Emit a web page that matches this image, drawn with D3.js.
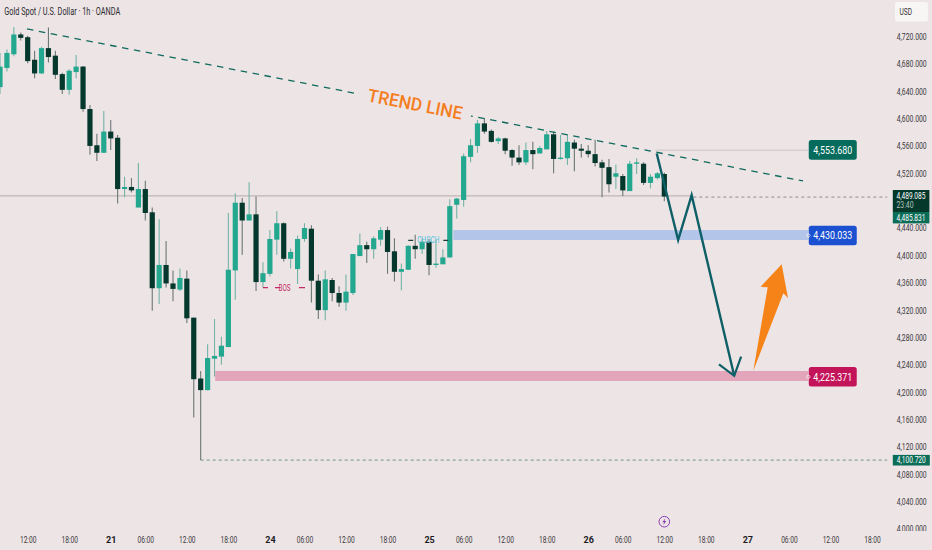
<!DOCTYPE html>
<html><head><meta charset="utf-8">
<script src="https://cdn.jsdelivr.net/npm/d3@7/dist/d3.min.js"></script>
<style>html,body{margin:0;padding:0;background:#ede4e6;overflow:hidden}svg{display:block}text{font-family:Roboto,sans-serif}</style>
</head><body><svg id="c" width="932" height="550"></svg>
<script>
// candles, one value per hourly bar (bar 0 at the left edge)
const opens=[4646,4674,4694,4723,4719,4686,4666,4703,4692,4665,4642,4668,4676,4614,4561,4550,4581,4572,4497,4500,4470,4497,4463,4352,4386,4359,4350,4366,4309,4220,4203,4249,4252,4266,4378,4477,4451,4460,4361,4373,4423,4447,4395,4380,4424,4439,4363,4320,4364,4345,4331,4345,4399,4415,4409,4423,4437,4406,4376,4379,4414,4409,4420,4386,4387,4397,4474,4481,4544,4560,4593,4582,4567,4571,4554,4543,4536,4554,4549,4555,4577,4542,4542,4565,4556,4553,4548,4536,4529,4515,4516,4494,4534,4534,4506,4513,4519];
const closes=[4676,4696,4723,4718,4684,4666,4703,4690,4664,4642,4670,4676,4614,4560,4550,4581,4571,4497,4500,4495,4497,4462,4352,4386,4359,4351,4367,4308,4219,4203,4250,4253,4268,4379,4477,4451,4460,4361,4374,4424,4447,4395,4405,4424,4440,4363,4320,4365,4345,4331,4347,4402,4415,4409,4425,4437,4405,4376,4380,4414,4409,4420,4386,4388,4397,4472,4483,4545,4561,4593,4581,4566,4571,4553,4543,4536,4554,4548,4557,4577,4541,4543,4566,4556,4553,4548,4535,4528,4504,4520,4495,4534,4536,4506,4515,4520,4486];
const highs=[4696,4701,4734,4726,4721,4699,4705,4733,4699,4667,4672,4693,4677,4620,4578,4611,4598,4576,4515,4513,4535,4509,4470,4453,4421,4378,4381,4378,4309,4231,4270,4307,4281,4462,4491,4484,4507,4486,4390,4437,4465,4448,4410,4429,4447,4444,4372,4378,4367,4355,4372,4402,4432,4420,4428,4441,4442,4425,4388,4415,4430,4425,4424,4423,4409,4482,4484,4549,4570,4598,4600,4584,4573,4572,4555,4561,4565,4566,4560,4582,4581,4576,4576,4569,4563,4561,4569,4540,4541,4533,4519,4538,4542,4536,4519,4522,4521];
const lows=[4636,4669,4691,4714,4681,4659,4665,4682,4658,4636,4635,4659,4610,4547,4538,4550,4554,4476,4485,4492,4470,4451,4319,4329,4353,4333,4348,4301,4163,4100.72,4203,4223,4240,4266,4335,4401,4451,4348,4353,4369,4401,4391,4381,4358,4420,4331,4307,4305,4333,4325,4319,4342,4399,4389,4395,4414,4373,4362,4349,4379,4395,4402,4371,4382,4387,4397,4454,4471,4536,4550,4578,4565,4563,4548,4531,4532,4532,4526,4549,4555,4520,4540,4532,4523,4543,4543,4530,4485,4492,4497,4487,4494,4519,4503,4498,4511,4479];

const priceTicks=[4720,4680,4640,4600,4560,4520,4440,4400,4360,4320,4280,4240,4200,4160,4120,4080,4040,4000];
const timeBars=[4,10,16,21,27,33,39,44,50,56,62,67,73,79,85,90,96,102,108,114,120,126];
const timeLabels=["12:00","18:00","21","06:00","12:00","18:00","24","06:00","12:00","18:00","25","06:00","12:00","18:00","26","06:00","12:00","18:00","27","06:00","12:00","18:00"];
const dayLabels=["21","24","25","26","27"];

// drawings, as [bar, price]
const trendLine=[[3.9,4731],[116.04,4508.8]];
const trendGapBar=[60,59];
const pathArrow=[[94.9,4549],[98,4422.5],[99.95,4488],[106.1,4224]];
const pathArrowHead=[[103.9,4240.8],[106.1,4224],[107.1,4251.9]];
const upArrow=[[108.86,4231.4],[110.94,4353.4],[109.9,4354],[112.96,4387],[113.87,4337.7],[113.2,4344.6]];
const blueZone={from:65.5,to:116.8,top:4437,bottom:4422.5,label:"4,430.033",price:4428.5};
const pinkZone={from:31.1,to:116.8,top:4231,bottom:4216.4,label:"4,225.371",price:4222.5};
const tealLevel={from:94.7,to:116.8,price:4553.68,label:"4,553.680"};
const lastLine={split:100.2,end:128.2,price:4487};
const lowLine={from:29,to:128.2,price:4100.72,label:"4,100.720"};
const bos={from:38,to:44.4,price:4353,label:"BOS"};
const choch={from:59,to:65,price:4422,label:"CHOCH"};

const W=932,H=550,BG="#ede4e6",UP="#23a88f",DOWN="#04382c",ARROW="#0e5f66";
const x=d3.scaleLinear().domain([0,100]).range([0,692]);
const y=d3.scaleLinear().domain([4000,4720]).range([529,36.5]);
const svg=d3.select("#c");
svg.append("rect").attr("width",W).attr("height",H).attr("fill",BG);
const defs=svg.append("defs");
defs.append("clipPath").attr("id","paxis").append("rect").attr("x",887).attr("y",0).attr("width",45).attr("height",531);

function label(g,str,px,py,size,fill,len,anchor,weight){
  const t=g.append("text").attr("x",px).attr("y",py).attr("font-size",size).attr("fill",fill)
    .attr("text-anchor",anchor||"start").attr("dominant-baseline","central").attr("font-weight",weight||400).text(str);
  if(len)t.attr("textLength",len).attr("lengthAdjust","spacingAndGlyphs");
  return t;
}
const line=d3.line().x(d=>x(d[0])).y(d=>y(d[1]));

// level lines
svg.append("line").attr("x1",x(0)).attr("x2",x(lastLine.split)).attr("y1",y(lastLine.price)).attr("y2",y(lastLine.price)).attr("stroke","#bfb6b6").attr("stroke-width",1.4);
svg.append("line").attr("x1",x(lastLine.split)).attr("x2",x(lastLine.end)).attr("y1",y(lastLine.price)+1.2).attr("y2",y(lastLine.price)+1.2).attr("stroke","#8b8f8d").attr("stroke-width",1).attr("stroke-dasharray","3 3");
svg.append("line").attr("x1",x(tealLevel.from)).attr("x2",x(tealLevel.to)).attr("y1",y(tealLevel.price)).attr("y2",y(tealLevel.price)).attr("stroke","#d8cfd1").attr("stroke-width",1.6);
svg.append("line").attr("x1",x(lowLine.from)).attr("x2",x(lowLine.to)).attr("y1",y(lowLine.price)).attr("y2",y(lowLine.price)).attr("stroke","#6c938a").attr("stroke-width",1).attr("stroke-dasharray","3 3");

// zones
[blueZone,pinkZone].forEach((z,i)=>{
  svg.append("rect").attr("x",x(z.from)).attr("width",x(z.to)-x(z.from)).attr("y",y(z.top)).attr("height",y(z.bottom)-y(z.top)).attr("fill",i?"#e2a5b9":"#b3c5e8");
});

// candles
const bars=d3.range(opens.length);
const cg=svg.append("g");
cg.selectAll("line").data(bars).join("line")
  .attr("x1",i=>x(i)).attr("x2",i=>x(i)).attr("y1",i=>y(highs[i])).attr("y2",i=>y(lows[i]))
  .attr("stroke",i=>closes[i]>=opens[i]?"#74b3a6":"#6b7773").attr("stroke-width",1.1);
cg.selectAll("rect").data(bars).join("rect")
  .attr("x",i=>x(i)-2.6).attr("width",5.2)
  .attr("y",i=>y(Math.max(opens[i],closes[i])))
  .attr("height",i=>Math.max(1.4,Math.abs(y(opens[i])-y(closes[i]))))
  .attr("fill",i=>closes[i]>=opens[i]?UP:DOWN);

// trend line and its label
const tx0=x(trendLine[0][0]),ty0=y(trendLine[0][1]),tx1=x(trendLine[1][0]),ty1=y(trendLine[1][1]);
const ang=Math.atan2(ty1-ty0,tx1-tx0)*180/Math.PI;
svg.append("path").attr("d",line(trendLine)).attr("fill","none").attr("stroke","#0f6a5c").attr("stroke-width",1.3).attr("stroke-dasharray","6.5 5.6");
const tcx=x(trendGapBar[0]),tcy=ty0+(tcx-tx0)*(ty1-ty0)/(tx1-tx0);
const tg=svg.append("g").attr("transform",`translate(${tcx},${tcy-1}) rotate(${ang})`);
tg.append("rect").attr("x",-57).attr("y",-9).attr("width",114).attr("height",18).attr("fill",BG);
label(tg,"TREND LINE",0,0,18,"#f47e1e",96,"middle",500).attr("font-family","Noto Sans");

// BOS / CHOCH
svg.append("line").attr("x1",x(bos.from)).attr("x2",x(bos.to)).attr("y1",y(bos.price)).attr("y2",y(bos.price))
  .attr("stroke","#c42a63").attr("stroke-width",1.2).attr("stroke-dasharray","5 7 5 19 6");
svg.append("line").attr("x1",x(choch.from)).attr("x2",x(choch.to)).attr("y1",y(choch.price)).attr("y2",y(choch.price))
  .attr("stroke","#1d3c36").attr("stroke-width",1.1).attr("stroke-dasharray","5 30 5");
label(svg,bos.label,x((bos.from+bos.to)/2)-.5,y(bos.price),8.5,"#c42a63",12,"middle");
label(svg,choch.label,x(choch.from+2.9),y(choch.price),8.5,"#4fc3dc",22,"middle");

// forecast arrows
svg.append("path").attr("d",line(pathArrow)).attr("fill","none").attr("stroke",ARROW).attr("stroke-width",2.4).attr("stroke-linejoin","miter");
svg.append("path").attr("d",line(pathArrowHead)).attr("fill","none").attr("stroke",ARROW).attr("stroke-width",2.2);
svg.append("path").attr("d",line(upArrow)+"Z").attr("fill","#f58318");

// right-hand tags
function tag(text,price,fill,dot,dy){
  const g=svg.append("g").attr("transform",`translate(${x(tealLevel.to)+.5},${y(price)+dy})`);
  g.append("rect").attr("x",0).attr("y",-9.8).attr("width",48).attr("height",19.6).attr("rx",2.5).attr("fill",fill);
  label(g,text,24,.3,11,"#fff",39,"middle");
  if(dot)g.append("circle").attr("cx",-.3).attr("cy",0).attr("r",1.6).attr("fill","none").attr("stroke","#fff").attr("stroke-width",.7);
}
tag(tealLevel.label,tealLevel.price,"#056b5c",false,-.4);
tag(blueZone.label,blueZone.price,"#1b50d1",true,-.4);
tag(pinkZone.label,pinkZone.price,"#c3145a",true,0);

// price axis
const pa=svg.append("g").attr("clip-path","url(#paxis)");
const paInner=pa.append("g").attr("transform","translate(887,0)")
  .call(d3.axisRight(y).tickValues(priceTicks).tickSize(0).tickPadding(9.7).tickFormat(d=>d3.format(",")(d)+".000"));
paInner.select(".domain").remove();
paInner.selectAll("text").attr("font-size",9).attr("fill","#3a3a3c").attr("font-family","Roboto").attr("textLength",30).attr("lengthAdjust","spacingAndGlyphs");

// current price tags
const ptag=svg.append("g");
ptag.append("rect").attr("x",892.8).attr("y",190).attr("width",36.6).attr("height",22).attr("fill","#03382b");
ptag.append("rect").attr("x",892.8).attr("y",212).attr("width",36.6).attr("height",11.4).attr("fill","#0b6d57");
label(ptag,"4,489.085",911,195.8,9,"#fff",29,"middle");
label(ptag,"23:40",905,205,9,"#b7c4bf",17,"middle");
label(ptag,"4,485.831",911,217.5,9,"#fff",29,"middle");
const lowTag=svg.append("g");
lowTag.append("rect").attr("x",892.8).attr("y",y(lowLine.price)-5.2).attr("width",37).attr("height",10.6).attr("fill","#0b6d57");
label(lowTag,lowLine.label,911.3,y(lowLine.price)+.2,9,"#fff",29,"middle");

// time axis
const ta=svg.append("g").attr("transform","translate(0,540)")
  .call(d3.axisBottom(x).tickValues(timeBars).tickSize(0).tickPadding(0).tickFormat((d,i)=>timeLabels[i]));
ta.select(".domain").remove();
ta.selectAll("text").attr("y",0).attr("dy",0).attr("dominant-baseline","central").attr("font-size",9).attr("font-family","Roboto")
  .attr("fill",(d,i)=>dayLabels.includes(timeLabels[i])?"#1c1c1e":"#3a3a3c")
  .attr("font-weight",(d,i)=>dayLabels.includes(timeLabels[i])?700:400)
  .each(function(d,i){ if(!dayLabels.includes(timeLabels[i])) d3.select(this).attr("textLength",16.5).attr("lengthAdjust","spacingAndGlyphs"); });

// title and currency button
label(svg,"Gold Spot / U.S. Dollar · 1h · OANDA",4.3,11.6,10,"#2a2a2c",116);
svg.append("rect").attr("x",895).attr("y",2).attr("width",33).attr("height",19.5).attr("rx",2).attr("fill","#f8f5f5");
label(svg,"USD",899.5,12,8.2,"#333",12.5);

// news marker
const news=svg.append("g").attr("transform",`translate(${x(96)},521.7)`);
news.append("circle").attr("r",5.3).attr("fill","none").attr("stroke","#8b3db5").attr("stroke-width",1);
news.append("path").attr("d","M1,-3.4L-2,0.6H-.2L-1,3.4L2,-.6H.2Z").attr("fill","#8b3db5");
</script></body></html>
